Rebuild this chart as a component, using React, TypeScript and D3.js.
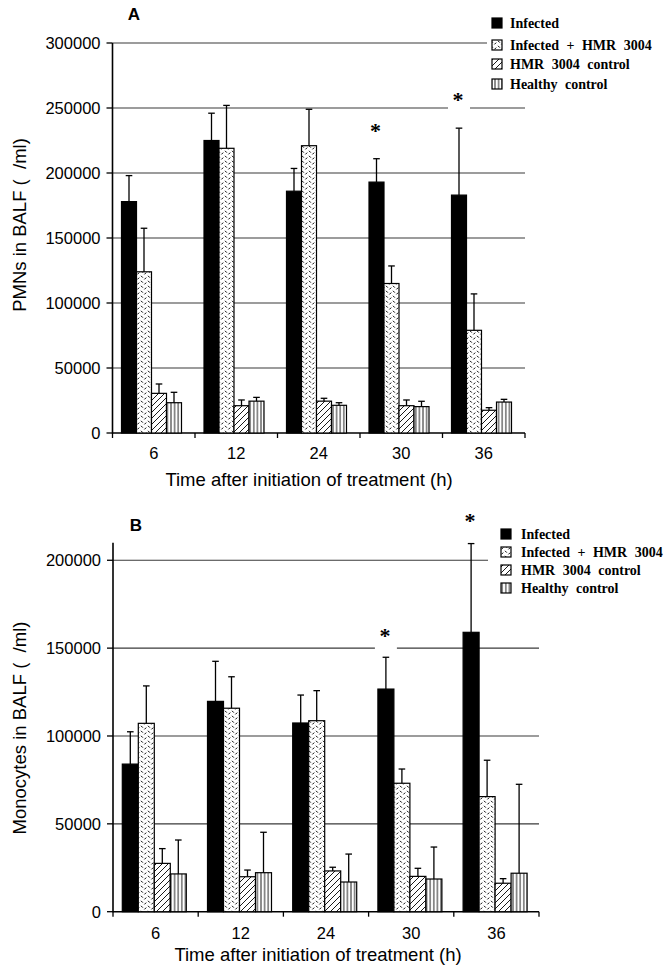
import React from "react";
import * as d3 from "d3";

// ---------- DATA ----------
const categories = ["6", "12", "24", "30", "36"];
const seriesNames = ["Infected", "Infected + HMR 3004", "HMR 3004 control", "Healthy control"];

// Panel A: PMNs in BALF (/ml)
const pmnInfected = [178000, 225000, 186000, 193000, 183000];
const pmnInfectedSD = [20000, 21000, 17500, 18000, 51500];
const pmnInfHMR = [124000, 219000, 221000, 115000, 79000];
const pmnInfHMRSD = [33500, 33000, 28000, 13500, 28000];
const pmnHMR = [30500, 21000, 24500, 21000, 17500];
const pmnHMRSD = [7200, 4400, 2200, 4400, 2000];
const pmnHealthy = [23300, 24500, 21300, 20300, 23800];
const pmnHealthySD = [8000, 2900, 2000, 4100, 2100];
const pmnTicks = [0, 50000, 100000, 150000, 200000, 250000, 300000];
const pmnStars = [
  { cat: "30", value: 234600 },
  { cat: "36", value: 258500 },
];

// Panel B: Monocytes in BALF (/ml)
const monoInfected = [84000, 119700, 107400, 126700, 159000];
const monoInfectedSD = [18400, 22800, 15900, 18100, 50500];
const monoInfHMR = [107200, 115800, 108700, 73100, 65500];
const monoInfHMRSD = [21300, 17900, 17100, 8100, 20700];
const monoHMR = [27500, 19900, 23200, 20100, 16200];
const monoHMRSD = [8400, 3800, 2100, 4600, 2600];
const monoHealthy = [21500, 22200, 16900, 18600, 21900];
const monoHealthySD = [19300, 23000, 15900, 18200, 50600];
const monoTicks = [0, 50000, 100000, 150000, 200000];
const monoStars = [
  { cat: "30", value: 158600 },
  { cat: "36", value: 224000 },
];

const xTitle = "Time after initiation of treatment (h)";

// ---------- STYLE ----------
const fills = ["#000", "url(#patDash)", "url(#patHatch)", "url(#patVert)"];
const SANS = "'Liberation Sans', Arial, Helvetica, sans-serif";
const SERIF = "'Liberation Serif', 'Times New Roman', serif";

type PanelCfg = {
  letter: string;
  letterX: number;
  letterY: number;
  x0: number;
  x1: number;
  y0: number;
  yTop: number;
  domainMax: number;
  ticks: number[];
  groupStart: number;
  barFrac: number;
  series: number[][];
  sds: number[][];
  stars: { cat: string; value: number }[];
  legendX: number;
  legendTextX: number;
  legendY: number[];
  gridStop: number;
  yLabel: string;
  yLabelY: number;
  titleX: number;
  titleY: number;
  tickLabelY: number;
};

function Panel({ c }: { c: PanelCfg }) {
  const x = d3.scaleBand<string>().domain(categories).range([c.x0, c.x1]).padding(0);
  const y = d3.scaleLinear().domain([0, c.domainMax]).range([c.y0, c.yTop]);
  const bw = x.bandwidth();
  const inner = d3
    .scaleBand<number>()
    .domain([0, 1, 2, 3])
    .range([bw * c.groupStart, bw * (c.groupStart + 4 * c.barFrac)])
    .padding(0);
  const barW = inner.bandwidth();
  const legTop = c.legendY[0] - 10;
  const legBot = c.legendY[c.legendY.length - 1] + 10;
  const boundaries = [...categories.map((d) => x(d) as number), c.x1];

  return (
    <g>
      {/* gridlines */}
      {c.ticks
        .filter((t) => t > 0)
        .map((t) => {
          const yy = y(t);
          const end = yy >= legTop && yy <= legBot ? c.gridStop : c.x1;
          return (
            <line key={"g" + t} x1={c.x0} x2={end} y1={yy} y2={yy} stroke="#3a3a3a" strokeWidth={1.1} />
          );
        })}
      {/* asterisk knockouts */}
      {c.stars.map((s, i) => {
        const cx = (x(s.cat) as number) + (inner(0) as number) + barW / 2;
        const cy = y(s.value);
        return <rect key={"k" + i} x={cx - 11} y={cy - 10} width={22} height={27} fill="#fff" />;
      })}
      {/* axes */}
      <line x1={c.x0} x2={c.x0} y1={c.yTop} y2={c.y0 + 0.5} stroke="#000" strokeWidth={1.6} />
      <line x1={c.x0} x2={c.x1} y1={c.y0} y2={c.y0} stroke="#000" strokeWidth={1.6} />
      {c.ticks.map((t) => (
        <g key={"yt" + t}>
          <line x1={c.x0 - 6} x2={c.x0} y1={y(t)} y2={y(t)} stroke="#000" strokeWidth={1.3} />
          <text
            x={c.x0 - 12}
            y={y(t) + 6}
            textAnchor="end"
            fontFamily={SANS}
            fontSize={16.5}
            fill="#000"
          >
            {t}
          </text>
        </g>
      ))}
      {boundaries.map((bx, i) => (
        <line key={"xt" + i} x1={bx} x2={bx} y1={c.y0} y2={c.y0 + 5} stroke="#000" strokeWidth={1.3} />
      ))}
      {categories.map((cat) => (
        <text
          key={"xl" + cat}
          x={(x(cat) as number) + bw / 2}
          y={c.tickLabelY}
          textAnchor="middle"
          fontFamily={SANS}
          fontSize={16.5}
          fill="#000"
        >
          {cat}
        </text>
      ))}
      {/* bars */}
      {c.series.map((vals, si) =>
        vals.map((v, ci) => {
          const bx = (x(categories[ci]) as number) + (inner(si) as number);
          return (
            <rect
              key={"b" + si + "-" + ci}
              x={bx}
              y={y(v)}
              width={barW}
              height={c.y0 - y(v)}
              fill={fills[si]}
              stroke="#000"
              strokeWidth={1.2}
            />
          );
        })
      )}
      {/* error bars (upper only) */}
      {c.series.map((vals, si) =>
        vals.map((v, ci) => {
          const cx = (x(categories[ci]) as number) + (inner(si) as number) + barW / 2;
          const top = y(v + c.sds[si][ci]);
          return (
            <g key={"e" + si + "-" + ci} stroke="#000" strokeWidth={1.3}>
              <line x1={cx} x2={cx} y1={y(v)} y2={top} />
              <line x1={cx - 3.3} x2={cx + 3.3} y1={top} y2={top} />
            </g>
          );
        })
      )}
      {/* asterisks */}
      {c.stars.map((s, i) => {
        const cx = (x(s.cat) as number) + (inner(0) as number) + barW / 2;
        const cy = y(s.value);
        return (
          <text
            key={"s" + i}
            x={cx - 1}
            y={cy + 10}
            textAnchor="middle"
            fontFamily={SERIF}
            fontWeight="bold"
            fontSize={22}
            fill="#000"
          >
            *
          </text>
        );
      })}
      {/* legend */}
      {seriesNames.map((name, i) => (
        <g key={"l" + i}>
          <rect
            x={c.legendX}
            y={c.legendY[i] - 5}
            width={10}
            height={10}
            fill={fills[i]}
            stroke="#000"
            strokeWidth={1.2}
          />
          <text
            x={c.legendTextX}
            y={c.legendY[i] + 5}
            fontFamily={SERIF}
            fontWeight="bold"
            fontSize={14}
            wordSpacing={4}
            fill="#000"
          >
            {name}
          </text>
        </g>
      ))}
      {/* labels */}
      <text x={c.letterX} y={c.letterY} textAnchor="middle" fontFamily={SANS} fontWeight="bold" fontSize={17}>
        {c.letter}
      </text>
      <text
        transform={`translate(26, ${c.yLabelY}) rotate(-90)`}
        textAnchor="middle"
        fontFamily={SANS}
        fontSize={18.5}
        fill="#000"
        style={{ whiteSpace: "pre" }}
      >
        {c.yLabel}
      </text>
      <text x={c.titleX} y={c.titleY} textAnchor="middle" fontFamily={SANS} fontSize={18.5} fill="#000">
        {xTitle}
      </text>
    </g>
  );
}

const panelA: PanelCfg = {
  letter: "A",
  letterX: 134,
  letterY: 20,
  x0: 112.5,
  x1: 525,
  y0: 433,
  yTop: 43,
  domainMax: 300000,
  ticks: pmnTicks,
  groupStart: 9 / 82.5,
  barFrac: 15 / 82.5,
  series: [pmnInfected, pmnInfHMR, pmnHMR, pmnHealthy],
  sds: [pmnInfectedSD, pmnInfHMRSD, pmnHMRSD, pmnHealthySD],
  stars: pmnStars,
  legendX: 492,
  legendTextX: 510,
  legendY: [23, 45, 64, 84],
  gridStop: 487,
  yLabel: "PMNs in BALF (  /ml)",
  yLabelY: 225,
  titleX: 309,
  titleY: 486,
  tickLabelY: 459,
};

const panelB: PanelCfg = {
  letter: "B",
  letterX: 136,
  letterY: 531,
  x0: 113,
  x1: 539,
  y0: 911.7,
  yTop: 542.7,
  domainMax: 210000,
  ticks: monoTicks,
  groupStart: 9.3 / 85.2,
  barFrac: 16 / 85.2,
  series: [monoInfected, monoInfHMR, monoHMR, monoHealthy],
  sds: [monoInfectedSD, monoInfHMRSD, monoHMRSD, monoHealthySD],
  stars: monoStars,
  legendX: 501,
  legendTextX: 521,
  legendY: [534, 552, 570, 588],
  gridStop: 488,
  yLabel: "Monocytes in BALF (  /ml)",
  yLabelY: 728,
  titleX: 318,
  titleY: 961,
  tickLabelY: 939,
};

export default function App() {
  return (
    <svg
      width={669}
      height={973}
      viewBox="0 0 669 973"
      style={{ position: "absolute", left: 0, top: 0, background: "#fff" }}
    >
      <defs>
        <pattern id="patDash" patternUnits="userSpaceOnUse" width={7} height={5}>
          <rect width={7} height={5} fill="#fff" />
          <path d="M1,0.8 L2.8,2.6 M4.4,4.4 L6.2,2.6" stroke="#000" strokeWidth={1} fill="none" />
        </pattern>
        <pattern id="patHatch" patternUnits="userSpaceOnUse" width={6} height={6}>
          <rect width={6} height={6} fill="#fff" />
          <path d="M0,6 L6,0 M-1,1 L1,-1 M5,7 L7,5" stroke="#000" strokeWidth={0.9} fill="none" />
        </pattern>
        <pattern id="patVert" patternUnits="userSpaceOnUse" width={3.6} height={10}>
          <rect width={3.6} height={10} fill="#fff" />
          <line x1={1.8} x2={1.8} y1={0} y2={10} stroke="#000" strokeWidth={0.9} />
        </pattern>
      </defs>
      <rect width={669} height={973} fill="#fff" />
      <Panel c={panelA} />
      <Panel c={panelB} />
    </svg>
  );
}
